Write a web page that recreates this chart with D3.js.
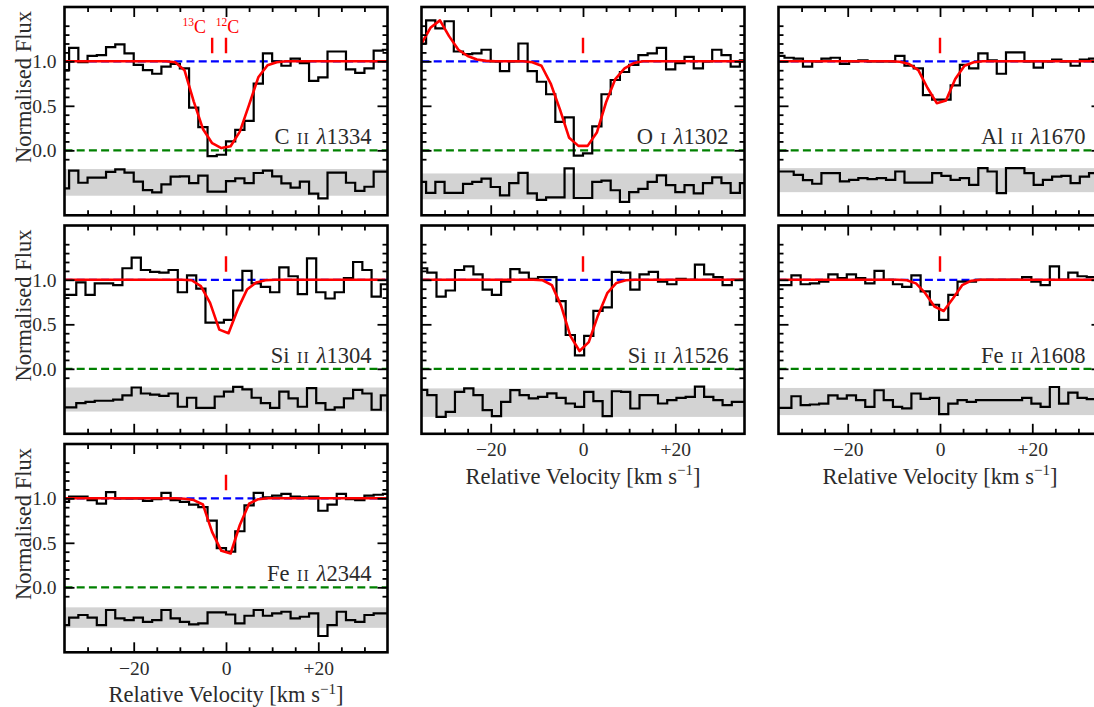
<!DOCTYPE html>
<html>
<head>
<meta charset="utf-8">
<script src="https://cdn.jsdelivr.net/npm/d3@7"></script>
<style>
  html, body { margin: 0; padding: 0; background: #ffffff; }
  svg { display: block; font-family: "Liberation Serif", "DejaVu Serif", serif; }
</style>
</head>
<body>
<svg id="chart" width="1094" height="707"></svg>
<script>
// ---------------------------------------------------------------
// Spectral data: normalised flux per 2 km/s pixel, fitted model at
// the same pixel centres, residuals (in units of the error band)
// and the extent of the 1-sigma residual band (flux units).
// ---------------------------------------------------------------
const binWidth = 2; // km/s per pixel

const ionNames    = ["C", "O", "Al", "Si", "Si", "Fe", "Fe"];
const ionStages   = ["II", "I", "II", "II", "II", "II", "II"];
const ionWaves    = ["1334", "1302", "1670", "1304", "1526", "1608", "2344"];
const firstPixel  = [-35, -35, -34.7, -35.45, -34.75, -35.2, -35]; // velocity of first pixel centre

// C II 1334
const fluxCII  = [0.90, 1.15, 0.99, 1.06, 1.07, 1.16, 1.19, 1.09, 0.96, 0.90, 0.86, 0.94,
                  0.97, 0.92, 0.48, 0.26, -0.065, -0.05, 0.10, 0.23, 0.33, 0.75, 1.09, 1.00,
                  0.95, 1.03, 0.98, 0.78, 0.82, 1.11, 1.11, 0.91, 0.87, 0.92, 1.12, 1.13];
const modelCII = [1, 1, 1, 1, 1, 1, 1, 1, 1, 1, 1, 1,
                  0.99, 0.90, 0.55, 0.24, 0.08, 0.025, 0.045, 0.21, 0.51, 0.82, 0.955, 0.99,
                  1, 1, 1, 1, 1, 1, 1, 1, 1, 1, 1, 1];
const residCII = [-0.45, 0.88, -0.03, 0.35, 0.35, 0.78, 0.98, 0.73, 0.05, -0.58, -0.75, -0.15,
                  0.43, 0.45, -0.05, 0.5, -0.7, -0.7, 0.1, 0.3, -0.05, 0.7, 0.88, 0.45,
                  -0.08, -0.4, 0.05, -0.85, -1.2, 0.73, 0.73, -0.03, -0.63, -0.33, 0.8, 0.8];
const bandCII  = [-0.51, -0.21];

// O I 1302
const fluxOI  = [1.20, 1.46, 1.37, 1.45, 1.11, 1.08, 1.09, 1.13, 1.00, 0.89, 1.00, 1.20,
                 0.89, 0.77, 0.63, 0.32, 0.37, -0.06, -0.035, 0.27, 0.63, 0.79, 0.88, 0.96,
                 1.07, 1.09, 1.15, 0.91, 0.98, 1.05, 0.92, 1.00, 1.13, 1.07, 0.94, 1.01];
const modelOI = [1.20, 1.38, 1.46, 1.28, 1.13, 1.06, 1.02, 1.005, 1, 1, 1, 1,
                 0.99, 0.95, 0.75, 0.46, 0.14, 0.05, 0.05, 0.20, 0.54, 0.80, 0.92, 0.98,
                 1, 1, 1, 1, 1, 1, 1, 1, 1, 1, 1, 1];
const residOI = [0.35, -0.5, 0.35, -0.5, -0.5, 0.2, 0.35, 0.6, -0.05, -0.7, 0.25, 1.05,
                 -0.55, -1.05, -0.85, -0.85, 1.4, -0.9, -0.9, 0.35, 0.45, -0.3, -1.2, -0.45,
                 -0.2, 0.35, 0.85, 0.1, -0.45, 0.1, -0.55, 0.25, 0.7, 0.25, -0.5, 0.25];
const bandOI  = [-0.55, -0.26];

// Al II 1670
const fluxAlII  = [1.06, 1.04, 1.03, 0.94, 1.00, 1.03, 1.04, 0.97, 1.00, 1.01, 1.00, 1.00,
                   1.00, 1.06, 0.95, 0.92, 0.62, 0.57, 0.57, 0.73, 0.96, 0.92, 1.09, 1.01,
                   0.86, 1.10, 1.10, 1.00, 0.93, 1.00, 1.02, 1.00, 0.95, 1.02, 1.03, 1.03];
const modelAlII = [1, 1, 1, 1, 1, 1, 1, 1, 1, 1, 1, 1,
                   1, 0.995, 0.97, 0.90, 0.70, 0.53, 0.56, 0.80, 0.95, 0.99, 1, 1,
                   1, 1, 1, 1, 1, 1, 1, 1, 1, 1, 1, 1];
const residAlII = [0.72, 0.72, 0.44, 0.0, -0.3, 0.58, 0.58, -0.1, 0.03, 0.17, 0.08, 0.17,
                   0.03, 0.72, -0.2, -0.2, -0.2, 0.58, 0.36, 0.03, 0.17, -0.39, 1.0, 0.72,
                   -1.08, 1.0, 1.0, 0.58, -0.39, 0.03, 0.3, 0.36, -0.25, 0.3, 0.58, 0.58];
const bandAlII  = [-0.47, -0.20];

// Si II 1304
const fluxSiII1304  = [0.83, 0.83, 0.97, 0.83, 0.96, 0.96, 0.94, 1.13, 1.25, 1.11, 1.09, 1.08,
                       1.11, 0.86, 1.05, 0.90, 0.52, 0.52, 0.55, 0.88, 1.10, 0.96, 0.92, 0.86,
                       1.14, 1.04, 0.84, 1.24, 0.86, 0.79, 0.86, 1.02, 1.20, 1.11, 0.81, 0.95];
const modelSiII1304 = [1, 1, 1, 1, 1, 1, 1, 1, 1, 1, 1, 1,
                       1, 1, 0.995, 0.93, 0.74, 0.44, 0.40, 0.67, 0.89, 0.97, 0.995, 1,
                       1, 1, 1, 1, 1, 1, 1, 1, 1, 1, 1, 1];
const residSiII1304 = [-0.65, -0.65, -0.3, -0.2, -0.1, -0.1, 0.0, 0.35, 1.0, 0.5, 0.4, 0.3,
                       0.5, -0.6, 0.15, -0.7, -0.7, 0.25, 0.65, 1.05, 0.85, 0.15, -0.3, -0.7,
                       0.65, 0.1, -0.6, 0.95, -0.3, -0.85, -0.65, 0.1, 0.8, 0.5, -0.85, 0.35];
const bandSiII1304  = [-0.48, -0.21];

// Si II 1526
const fluxSiII1526  = [1.13, 1.08, 0.81, 0.88, 1.11, 1.15, 1.06, 0.89, 0.83, 0.98, 1.12, 1.08,
                       1.01, 1.03, 1.03, 0.76, 0.38, 0.15, 0.37, 0.65, 0.69, 1.09, 1.08, 0.89,
                       1.06, 1.09, 0.98, 0.95, 1.01, 1.00, 1.17, 1.06, 1.03, 0.94, 1.00, 1.00];
const modelSiII1526 = [1, 1, 1, 1, 1, 1, 1, 1, 1, 1, 1, 1,
                       1, 0.995, 0.94, 0.71, 0.37, 0.20, 0.30, 0.60, 0.85, 0.965, 0.995, 1,
                       1, 1, 1, 1, 1, 1, 1, 1, 1, 1, 1, 1];
const residSiII1526 = [0.9, 0.53, -1.0, -0.65, 0.76, 1.0, 0.53, -0.53, -0.95, 0.06, 0.88, 0.53,
                       0.3, 0.4, 0.65, 0.34, -0.06, -0.3, 0.76, 0.1, -0.95, 0.8, 0.76, -0.41,
                       0.53, 0.53, -0.06, 0.18, 0.34, 0.41, 1.12, 0.41, 0.18, -0.18, 0.06, 0.06];
const bandSiII1526  = [-0.54, -0.22];

// Fe II 1608
const fluxFeII1608  = [0.94, 0.94, 1.05, 0.95, 0.96, 0.98, 1.06, 1.02, 1.06, 1.02, 0.96, 1.10,
                       1.00, 0.95, 0.92, 1.05, 0.87, 0.72, 0.55, 0.83, 0.98, 0.98, 1.00, 1.00,
                       1.00, 1.00, 1.00, 1.03, 0.98, 0.94, 1.15, 1.00, 1.08, 1.04, 1.03, 1.03];
const modelFeII1608 = [1, 1, 1, 1, 1, 1, 1, 1, 1, 1, 1, 1,
                       1, 1, 0.995, 0.96, 0.85, 0.70, 0.65, 0.79, 0.94, 0.99, 1, 1,
                       1, 1, 1, 1, 1, 1, 1, 1, 1, 1, 1, 1];
const residFeII1608 = [-0.46, -0.46, 0.39, -0.27, -0.22, -0.15, 0.46, 0.22, 0.46, 0.1, -0.39, 0.83,
                       0.1, -0.39, -0.51, 0.59, 0.2, 0.27, -0.93, -0.15, 0.1, -0.02, 0.1, 0.1,
                       0.1, 0.1, 0.1, 0.27, -0.15, -0.39, 1.07, -0.15, 0.66, 0.27, 0.17, 0.17];
const bandFeII1608  = [-0.52, -0.215];

// Fe II 2344
const fluxFeII2344  = [0.96, 1.02, 1.02, 0.98, 0.94, 1.07, 1.00, 1.00, 1.00, 0.97, 0.99, 1.06,
                       0.98, 0.96, 0.93, 0.90, 0.75, 0.44, 0.40, 0.63, 0.92, 1.06, 1.01, 1.03,
                       1.05, 1.02, 1.01, 1.02, 0.86, 0.93, 1.05, 0.99, 0.98, 1.03, 1.04, 1.05];
const modelFeII2344 = [1, 1, 1, 1, 1, 1, 1, 1, 1, 1, 1, 1,
                       1, 0.995, 0.98, 0.93, 0.62, 0.41, 0.38, 0.70, 0.94, 0.99, 1, 1,
                       1, 1, 1, 1, 1, 1, 1, 1, 1, 1, 1, 1];
const residFeII2344 = [-0.74, 0.0, 0.25, 0.0, -0.74, 0.74, -0.08, -0.25, 0.0, -0.41, -0.25, 0.74,
                       -0.08, -0.41, -0.67, -0.57, 0.51, 0.51, 0.3, -0.57, 0.18, 0.74, 0.18, 0.41,
                       0.57, -0.08, 0.08, 0.41, -1.8, -0.74, 0.57, -0.25, -0.41, 0.25, 0.41, 0.41];
const bandFeII2344  = [-0.455, -0.225];

// Component markers (km/s)
const componentVelocity = 0;
const carbon13Velocity = -3.0;

// Axis ticks
const xMajorTicks = [-20, 0, 20];
const xTickLabels = ["\u221220", "0", "+20"];
const xMinorTicks = [-30, -25, -15, -10, -5, 5, 10, 15, 25, 30];
const yMajorTicks = [0, 0.5, 1.0];
const yTickLabels = ["0.0", "0.5", "1.0"];
const yMinorTicks = [-0.1, 0.1, 0.2, 0.3, 0.4, 0.6, 0.7, 0.8, 0.9, 1.1, 1.2, 1.3, 1.4];

const fluxSets  = [fluxCII, fluxOI, fluxAlII, fluxSiII1304, fluxSiII1526, fluxFeII1608, fluxFeII2344];
const modelSets = [modelCII, modelOI, modelAlII, modelSiII1304, modelSiII1526, modelFeII1608, modelFeII2344];
const residSets = [residCII, residOI, residAlII, residSiII1304, residSiII1526, residFeII1608, residFeII2344];
const bandSets  = [bandCII, bandOI, bandAlII, bandSiII1304, bandSiII1526, bandFeII1608, bandFeII2344];

// ---------------------------------------------------------------
// Layout
// ---------------------------------------------------------------
const panelW = 323, panelH = 208.3;
const colX = [64.5, 421.5, 778.5];
const rowY = [7, 225.5, 444];
const cells = [[0, 0], [0, 1], [0, 2], [1, 0], [1, 1], [1, 2], [2, 0]]; // [row, col]
const hasXLabels = [false, false, false, false, true, true, true];

const x = d3.scaleLinear().domain([-35, 35]).range([0, panelW]);
const y = d3.scaleLinear().domain([-0.73, 1.61]).range([panelH, 0]);

const svg = d3.select("#chart");
const defs = svg.append("defs");
defs.append("clipPath").attr("id", "panel-clip")
  .append("rect").attr("x", 0).attr("y", 0).attr("width", panelW).attr("height", panelH);

const textColor = "#2b2b2b";
const serif = "'Liberation Serif', 'DejaVu Serif', serif";

const stepLine = d3.line().curve(d3.curveStepAfter).x(d => x(d[0])).y(d => y(d[1]));
const modelLine = d3.line().x(d => x(d[0])).y(d => y(d[1]));

function stepPoints(vel, vals) {
  const pts = vals.map((f, i) => [vel[i] - binWidth / 2, f]);
  pts.push([vel[vel.length - 1] + binWidth / 2, vals[vals.length - 1]]);
  return pts;
}

function styleAxis(g, showText) {
  g.select(".domain").remove();
  g.selectAll(".tick line").attr("stroke", "#000").attr("stroke-width", 1.8);
  g.selectAll(".tick text")
    .attr("fill", textColor)
    .style("font-family", serif)
    .style("font-size", "19.5px")
    .style("display", showText ? null : "none");
  g.attr("font-size", null).attr("font-family", null);
}

ionNames.forEach((name, p) => {
  const [r, c] = cells[p];
  const g = svg.append("g").attr("transform", `translate(${colX[c]},${rowY[r]})`);
  const plot = g.append("g").attr("clip-path", "url(#panel-clip)");

  const vel = d3.range(fluxSets[p].length).map(i => firstPixel[p] + i * binWidth);
  const band = bandSets[p];
  const bandMid = (band[0] + band[1]) / 2, bandHalf = (band[1] - band[0]) / 2;

  // residual band and residuals
  plot.append("rect")
    .attr("x", 0).attr("width", panelW)
    .attr("y", y(band[1])).attr("height", y(band[0]) - y(band[1]))
    .attr("fill", "#d3d3d3");
  plot.append("path")
    .attr("d", stepLine(stepPoints(vel, residSets[p].map(v => bandMid + v * bandHalf))))
    .attr("fill", "none").attr("stroke", "#000").attr("stroke-width", 2.2)
    .attr("stroke-linejoin", "miter");

  // continuum and zero level
  plot.append("line").attr("x1", 0).attr("x2", panelW).attr("y1", y(1)).attr("y2", y(1))
    .attr("stroke", "#0000ff").attr("stroke-width", 2.2).attr("stroke-dasharray", "8,4.2");
  plot.append("line").attr("x1", 0).attr("x2", panelW).attr("y1", y(0)).attr("y2", y(0))
    .attr("stroke", "#008000").attr("stroke-width", 2.2).attr("stroke-dasharray", "8,4.2");

  // observed spectrum
  plot.append("path")
    .attr("d", stepLine(stepPoints(vel, fluxSets[p])))
    .attr("fill", "none").attr("stroke", "#000").attr("stroke-width", 2.2)
    .attr("stroke-linejoin", "miter");

  // fitted model
  plot.append("path")
    .attr("d", modelLine(modelSets[p].map((m, i) => [vel[i], m])))
    .attr("fill", "none").attr("stroke", "#ff0000").attr("stroke-width", 2.6)
    .attr("stroke-linejoin", "round");

  // component markers
  const markers = p === 0 ? [carbon13Velocity, componentVelocity] : [componentVelocity];
  markers.forEach(v => {
    plot.append("line").attr("x1", x(v)).attr("x2", x(v))
      .attr("y1", y(1.09)).attr("y2", y(1.265))
      .attr("stroke", "#ff0000").attr("stroke-width", 2.4);
  });
  if (p === 0) {
    const isoLabels = [["13", carbon13Velocity, -18], ["12", componentVelocity, 1.5]];
    isoLabels.forEach(([mass, v, dx]) => {
      const t = g.append("text").attr("x", x(v) + dx).attr("y", y(1.32))
        .attr("text-anchor", "middle").attr("fill", "#ff0000").style("font-size", "18px");
      t.append("tspan").text(mass).style("font-size", "11.5px").attr("dy", -6.5);
      t.append("tspan").text("C").attr("dy", 6.5);
    });
  }

  // transition label
  const lab = g.append("text").attr("x", panelW - 16).attr("y", y(0) - 6)
    .attr("text-anchor", "end").attr("fill", textColor).style("font-size", "22.5px");
  lab.append("tspan").text(name);
  lab.append("tspan").text(ionStages[p]).attr("dx", 7.5)
    .style("font-size", "16px").attr("letter-spacing", "1");
  lab.append("tspan").text("\u03bb").attr("dx", 7).style("font-style", "italic");
  lab.append("tspan").text(ionWaves[p]);

  // ticks on all four sides, pointing inward
  const showX = hasXLabels[p], showY = c === 0;
  g.append("g").attr("transform", `translate(0,${panelH})`)
    .call(d3.axisBottom(x).tickValues(xMajorTicks).tickSizeInner(-10).tickSizeOuter(0)
      .tickPadding(8.5).tickFormat((d, i) => xTickLabels[i]))
    .call(a => styleAxis(a, showX));
  g.append("g").attr("transform", `translate(0,${panelH})`)
    .call(d3.axisBottom(x).tickValues(xMinorTicks).tickSizeInner(-5).tickSizeOuter(0).tickFormat(""))
    .call(a => styleAxis(a, false));
  g.append("g")
    .call(d3.axisTop(x).tickValues(xMajorTicks).tickSizeInner(-10).tickSizeOuter(0).tickFormat(""))
    .call(a => styleAxis(a, false));
  g.append("g")
    .call(d3.axisTop(x).tickValues(xMinorTicks).tickSizeInner(-5).tickSizeOuter(0).tickFormat(""))
    .call(a => styleAxis(a, false));
  g.append("g")
    .call(d3.axisLeft(y).tickValues(yMajorTicks).tickSizeInner(-10).tickSizeOuter(0)
      .tickPadding(8).tickFormat((d, i) => yTickLabels[i]))
    .call(a => styleAxis(a, showY));
  g.append("g")
    .call(d3.axisLeft(y).tickValues(yMinorTicks).tickSizeInner(-5).tickSizeOuter(0).tickFormat(""))
    .call(a => styleAxis(a, false));
  g.append("g").attr("transform", `translate(${panelW},0)`)
    .call(d3.axisRight(y).tickValues(yMajorTicks).tickSizeInner(-10).tickSizeOuter(0).tickFormat(""))
    .call(a => styleAxis(a, false));
  g.append("g").attr("transform", `translate(${panelW},0)`)
    .call(d3.axisRight(y).tickValues(yMinorTicks).tickSizeInner(-5).tickSizeOuter(0).tickFormat(""))
    .call(a => styleAxis(a, false));

  // frame
  g.append("rect").attr("x", 0).attr("y", 0).attr("width", panelW).attr("height", panelH)
    .attr("fill", "none").attr("stroke", "#000").attr("stroke-width", 2.6);

  // axis titles
  if (showX) {
    const t = g.append("text").attr("x", panelW / 2).attr("y", panelH + 50)
      .attr("text-anchor", "middle").attr("fill", textColor).style("font-size", "22.5px");
    t.append("tspan").text("Relative Velocity [km s");
    t.append("tspan").text("\u22121").style("font-size", "15px").attr("dy", -8.5);
    t.append("tspan").text("]").attr("dy", 8.5);
  }
  if (showY) {
    g.append("text")
      .attr("transform", `translate(-34,80) rotate(-90)`)
      .attr("text-anchor", "middle").attr("fill", textColor).style("font-size", "22.5px")
      .text("Normalised Flux");
  }
});
</script>
</body>
</html>
